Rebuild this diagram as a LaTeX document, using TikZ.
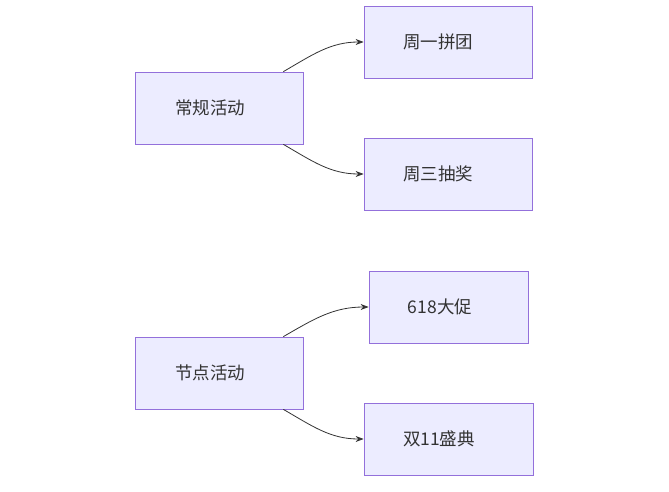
\documentclass[tikz,border=0pt]{standalone}
\usepackage{fontspec}
\setmainfont{Noto Sans CJK SC}
\usetikzlibrary{arrows.meta,calc}
\definecolor{boxfill}{HTML}{ECECFF}
\definecolor{boxline}{HTML}{9370DB}
\definecolor{edgecol}{HTML}{333333}
\tikzset{
  actbox/.style={draw=boxline,fill=boxfill,line width=0.8pt,minimum height=72pt,
    font=\fontsize{17.5}{20}\selectfont,text=edgecol,inner sep=0pt},
  link/.style={draw=edgecol,line width=0.8pt,-{Stealth[length=8pt,width=6pt]}}
}
\begin{document}
\begin{tikzpicture}[x=1pt,y=-1pt]
\useasboundingbox[fill=white] (0,0) rectangle (669,492);

% Left groups
\node[actbox,minimum width=168pt] (regular) at (219,108) {常规活动\hspace*{18pt}};
\node[actbox,minimum width=168pt] (festival) at (219,373) {节点活动\hspace*{18pt}};

% Right items
\node[actbox,minimum width=168pt] (mon) at (448,42) {周一拼团\hspace*{20pt}};
\node[actbox,minimum width=168pt] (wed) at (448,174) {周三抽奖\hspace*{20pt}};
\node[actbox,minimum width=159pt] (sale) at (448.5,307) {618大促\hspace*{17pt}};
\node[actbox,minimum width=169pt] (double) at (448.5,439) {双11盛典\hspace*{19pt}};

% Connectors
\draw[link] ($(regular.north east)+(-20,0)$) to[out=30,in=180] (mon.west);
\draw[link] ($(regular.south east)+(-20,0)$) to[out=-30,in=180] (wed.west);
\draw[link] ($(festival.north east)+(-20,0)$) to[out=30,in=180] (sale.west);
\draw[link] ($(festival.south east)+(-20,0)$) to[out=-30,in=180] (double.west);
\end{tikzpicture}
\end{document}
